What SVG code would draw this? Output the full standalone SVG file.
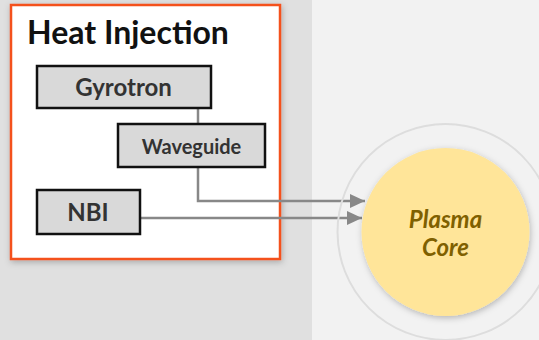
<svg xmlns="http://www.w3.org/2000/svg" width="539" height="340" viewBox="0 0 539 340">
  <style>
    .lbl { font-family: Lato, "Open Sans", sans-serif; font-weight: bold; fill: #333333; text-anchor: middle; }
    .box { fill: #d9d9d9; stroke: #111111; stroke-width: 2.5; }
    .wire { fill: none; stroke: #888888; stroke-width: 2.5; }
    .core { font-family: Lato, "Open Sans", sans-serif; font-weight: bold; font-style: italic; font-size: 24px; fill: #7f6000; text-anchor: middle; }
  </style>
  <defs>
    <filter id="shadow" x="-20%" y="-20%" width="140%" height="140%">
      <feDropShadow dx="1" dy="2" stdDeviation="3" flood-color="#000000" flood-opacity="0.25"/>
    </filter>
    <marker id="arrow" viewBox="0 0 15 14" refX="15" refY="7" markerWidth="15" markerHeight="14" markerUnits="userSpaceOnUse" orient="auto">
      <path d="M0,0 L15,7 L0,14 Z" fill="#888888"/>
    </marker>
  </defs>

  <!-- background panels -->
  <rect x="0" y="0" width="312" height="340" fill="#e0e0e0"/>
  <rect x="312" y="0" width="227" height="340" fill="#f2f2f2"/>

  <!-- heating subsystem container -->
  <g id="heat-injection">
    <rect x="11" y="5" width="269" height="254" fill="#ffffff" stroke="#f4511e" stroke-width="2.5" filter="url(#shadow)"/>
    <text x="27" y="44" font-family="Lato, 'Open Sans', sans-serif" font-weight="bold" font-size="32" fill="#111111">Heat Injection</text>
  </g>

  <!-- connectors -->
  <g id="connectors">
    <path class="wire" d="M198,108 V124"/>
    <path class="wire" d="M198,168 V201 H365" marker-end="url(#arrow)"/>
    <path class="wire" d="M141,218 H362" marker-end="url(#arrow)"/>
  </g>

  <g id="gyrotron">
    <rect class="box" x="37" y="66" width="174" height="42"/>
    <text class="lbl" x="123.5" y="96" font-size="24">Gyrotron</text>
  </g>

  <g id="waveguide">
    <rect class="box" x="118" y="124" width="147" height="43"/>
    <text class="lbl" x="191.5" y="154" font-size="20">Waveguide</text>
  </g>

  <g id="nbi">
    <rect class="box" x="37" y="190" width="103" height="44"/>
    <text class="lbl" x="88" y="221" font-size="24">NBI</text>
  </g>

  <!-- plasma core with surrounding ring -->
  <g id="plasma-core">
    <circle cx="445.5" cy="232" r="108" fill="none" stroke="#dddddd" stroke-width="2"/>
    <circle cx="445.5" cy="232" r="84" fill="#ffe599" filter="url(#shadow)"/>
    <text class="core" x="445.5" y="228">Plasma</text>
    <text class="core" x="445.5" y="256">Core</text>
  </g>
</svg>
